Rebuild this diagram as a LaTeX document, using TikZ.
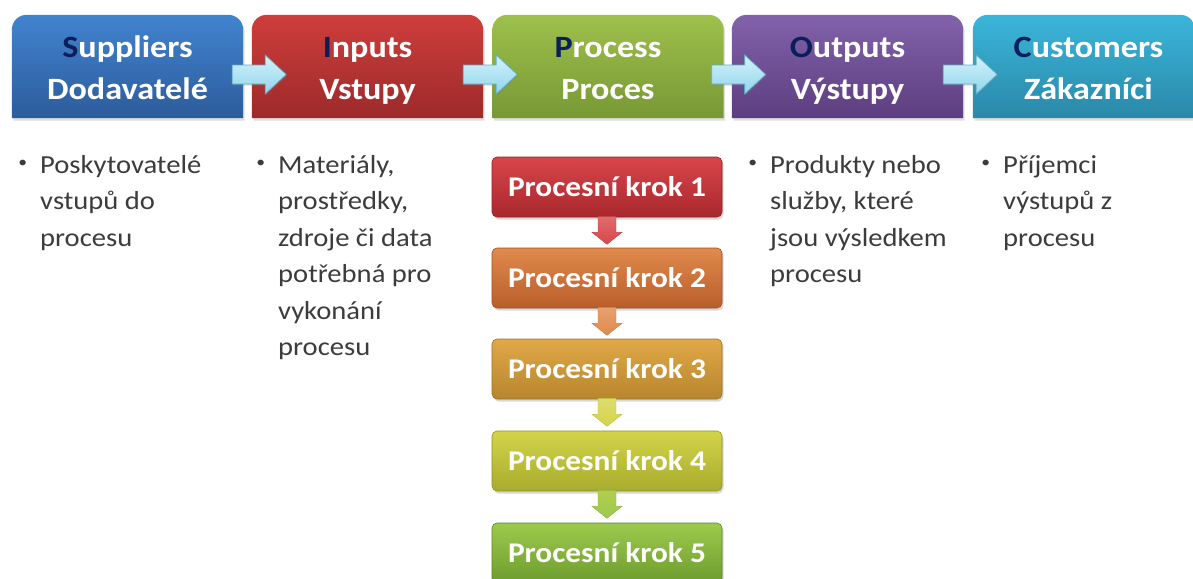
\documentclass[tikz,border=0pt]{standalone}
\usepackage{fontspec}
\setmainfont{Carlito}[FakeStretch=1.1]
\usetikzlibrary{shadows}
\definecolor{navy}{HTML}{0A1E5A}
\definecolor{txtgray}{HTML}{3C3C3C}
\definecolor{supTop}{HTML}{4283CE}
\definecolor{supBot}{HTML}{2C5C9C}
\definecolor{inpTop}{HTML}{CE3E3C}
\definecolor{inpBot}{HTML}{9C2A2A}
\definecolor{proTop}{HTML}{9EC04C}
\definecolor{proBot}{HTML}{789834}
\definecolor{outTop}{HTML}{8262AA}
\definecolor{outBot}{HTML}{5C3E80}
\definecolor{cusTop}{HTML}{3AB6DA}
\definecolor{cusBot}{HTML}{2A88A8}
\definecolor{arrTop}{HTML}{D4F3FC}
\definecolor{arrBot}{HTML}{90D4EA}
\definecolor{arrEdge}{HTML}{5FAEC8}
\definecolor{kA}{HTML}{D8464A}\definecolor{kAb}{HTML}{A8282C}
\definecolor{kB}{HTML}{E08A4C}\definecolor{kBb}{HTML}{B85E2C}
\definecolor{kC}{HTML}{E0A848}\definecolor{kCb}{HTML}{B8862E}
\definecolor{kD}{HTML}{D4D44A}\definecolor{kDb}{HTML}{A8AC2C}
\definecolor{kE}{HTML}{9CCA4E}\definecolor{kEb}{HTML}{6E9C2E}
\tikzset{
  hdrbox/.style={minimum width=231pt, minimum height=103pt, inner sep=0pt, draw=none},
  hdrtext/.style={font=\bfseries\fontsize{31}{42.7}\selectfont, text=white, align=center, inner sep=0pt, anchor=north},
  stepbox/.style n args={2}{rounded corners=5pt, minimum width=230pt, minimum height=60pt, inner sep=0pt,
     top color=#1, bottom color=#2, draw=#2!85!black, line width=0.6pt,
     font=\bfseries\fontsize{28.5}{34}\selectfont, text=white,
     drop shadow={shadow xshift=1.5pt, shadow yshift=-2.5pt, opacity=0.3}},
  bullettext/.style={font=\fontsize{26}{36.5}\selectfont, text=txtgray, align=left, inner sep=0pt, anchor=north west},
  flowarrow/.style={top color=arrTop, bottom color=arrBot, draw=arrEdge, line width=0.7pt,
     drop shadow={shadow xshift=1pt, shadow yshift=-1.5pt, opacity=0.25}},
  downarrow/.style n args={2}{top color=#1, bottom color=#2, draw=#2!90!black, line width=0.4pt}
}
\newcommand{\hdrshape}[3]{%
  \path[top color=#2, bottom color=#3, drop shadow={shadow xshift=1.5pt, shadow yshift=-2.5pt, opacity=0.25}]
    (#1.south west) -- ([yshift=-15pt]#1.north west)
    arc[start angle=180, end angle=90, radius=15pt]
    -- ([xshift=-15pt]#1.north east)
    arc[start angle=90, end angle=0, radius=15pt]
    -- (#1.south east) -- cycle;}
\newcommand{\hflow}[1]{%
  \begin{scope}[shift={(#1)}]
    \path[flowarrow] (0,9.5) -- (33,9.5) -- (33,19.5) -- (54,0) -- (33,-19.5) -- (33,-9.5) -- (0,-9.5) -- cycle;
  \end{scope}}
\newcommand{\vflow}[3]{%
  \begin{scope}[shift={(#1)}]
    \path[downarrow={#2}{#3}] (-9,1) -- (9,1) -- (9,-15) -- (15,-15) -- (0,-27) -- (-15,-15) -- (-9,-15) -- cycle;
  \end{scope}}
\newcommand{\bul}{\llap{\raisebox{6pt}{\fontsize{16}{16}\selectfont\textbullet}\hspace{13pt}}}
\begin{document}
\begin{tikzpicture}[x=1pt,y=1pt]
\useasboundingbox[fill=white] (0,0) rectangle (1193,-578);
% header boxes
\node[hdrbox] (sup) at (127.5,-66.5) {};
\node[hdrbox] (inp) at (367.5,-66.5) {};
\node[hdrbox] (pro) at (608,-66.5) {};
\node[hdrbox] (out) at (847.5,-66.5) {};
\node[hdrbox, minimum width=222pt] (cus) at (1084,-66.5) {};
\hdrshape{sup}{supTop}{supBot}
\hdrshape{inp}{inpTop}{inpBot}
\hdrshape{pro}{proTop}{proBot}
\hdrshape{out}{outTop}{outBot}
\hdrshape{cus}{cusTop}{cusBot}
% header texts
\node[hdrtext] (supT) at ([yshift=-12.4pt]sup.north) {\strut\textcolor{navy}{S}uppliers\\Dodavatelé};
\node[hdrtext] (inpT) at ([yshift=-12.4pt]inp.north) {\strut\textcolor{navy}{I}nputs\\Vstupy};
\node[hdrtext] (proT) at ([yshift=-12.4pt]pro.north) {\strut\textcolor{navy}{P}rocess\\Proces};
\node[hdrtext] (outT) at ([yshift=-12.4pt]out.north) {\strut\textcolor{navy}{O}utputs\\Výstupy};
\node[hdrtext] (cusT) at ([yshift=-12.4pt,xshift=4.5pt]cus.north) {\strut\textcolor{navy}{C}ustomers\\Zákazníci};
% arrows between header boxes
\coordinate (h1) at ([xshift=-11pt,yshift=-8pt]sup.east);
\coordinate (h2) at ([xshift=-20pt,yshift=-8pt]inp.east);
\coordinate (h3) at ([xshift=-12pt,yshift=-8pt]pro.east);
\coordinate (h4) at ([xshift=-20pt,yshift=-8pt]out.east);
\hflow{h1}\hflow{h2}\hflow{h3}\hflow{h4}
% process steps
\node[stepbox={kA}{kAb}] (k1) at (607,-187) {Procesní krok 1};
\node[stepbox={kB}{kBb}] (k2) at (607,-278) {Procesní krok 2};
\node[stepbox={kC}{kCb}] (k3) at (607,-369) {Procesní krok 3};
\node[stepbox={kD}{kDb}] (k4) at (607,-461) {Procesní krok 4};
\node[stepbox={kE}{kEb}] (k5) at (607,-553) {Procesní krok 5};
\vflow{k1.south}{kA!80!white}{kA}
\vflow{k2.south}{kB!80!white}{kB}
\vflow{k3.south}{kD!80!white}{kD}
\vflow{k4.south}{kE!60!kD}{kE}
% bullet texts
\node[bullettext] (supB) at (40,-147.5) {\strut\bul Poskytovatelé\\vstupů do\\procesu};
\node[bullettext] (inpB) at (278,-147.5) {\strut\bul Materiály,\\prostředky,\\zdroje či data\\potřebná pro\\vykonání\\procesu};
\node[bullettext] (outB) at (770,-147.5) {\strut\bul Produkty nebo\\služby, které\\jsou výsledkem\\procesu};
\node[bullettext] (cusB) at (1003,-147.5) {\strut\bul Příjemci\\výstupů z\\procesu};
\end{tikzpicture}
\end{document}
